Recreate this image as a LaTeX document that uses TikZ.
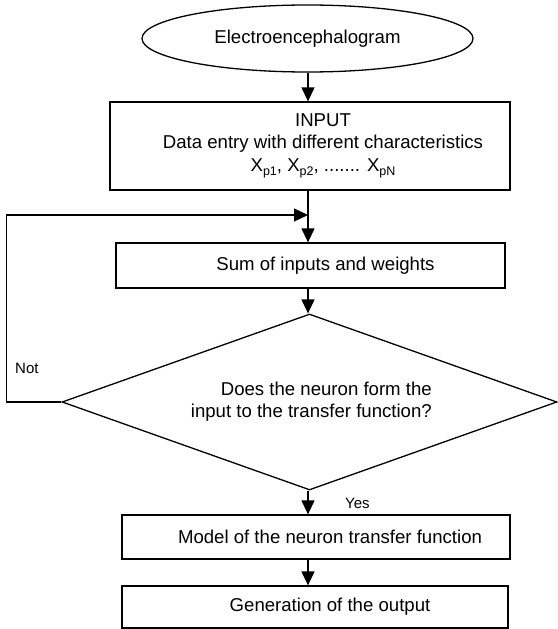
\documentclass[tikz,border=0pt]{standalone}
\usepackage{fontspec}
\setmainfont{Liberation Sans}
\usetikzlibrary{shapes.geometric, arrows.meta, positioning}

\newcommand{\xsub}[1]{\raisebox{-4.5pt}{\fontsize{12.5}{12.5}\selectfont #1}}

\tikzset{
  box/.style={draw, rectangle, line width=1.3pt, inner sep=0pt},
  flow/.style={-{Triangle[length=14pt,width=13pt]}, line width=1.3pt},
  tag/.style={font=\fontsize{15}{18}\selectfont, inner sep=0pt, anchor=west},
}

\begin{document}
\begin{tikzpicture}[x=1pt, y=-1pt, font=\fontsize{18.6}{22.5}\selectfont]
    \useasboundingbox (0,0) rectangle (557,629);

    \node[ellipse, draw, line width=1.3pt, inner sep=0pt, minimum width=331pt, minimum height=67pt] (eeg) at (307.5, 38.5) {Electroencephalogram};
    \node[box, minimum width=400pt, minimum height=88pt, align=center] (input) at (310, 146)
        {\hspace*{26pt}INPUT\\ \hspace*{26pt}Data entry with different characteristics\\
         \hspace*{26pt}X\xsub{p1}, X\xsub{p2}, ....... X\xsub{pN}};
    \node[box, minimum width=389pt, minimum height=45pt] (sum) at (310.5, 265.5) {\hspace*{30pt}Sum of inputs and weights};
    \node[diamond, draw, line width=1.3pt, inner sep=0pt, minimum width=495pt, minimum height=176pt] (decide) at (309.5, 402) {};
    \node[align=right, inner sep=0pt, anchor=east] (question) at (432, 401.5) {Does the neuron form the\\input to the transfer function?};
    \node[box, minimum width=388pt, minimum height=44pt] (model) at (316, 537) {\hspace*{28pt}Model of the neuron transfer function};
    \node[box, minimum width=386pt, minimum height=42pt] (output) at (315, 607) {\hspace*{30pt}Generation of the output};

    \node[tag] (no) at (15, 368) {Not};
    \node[tag] (yes) at (345, 503) {Yes};

    \coordinate (join) at (308, 215);

    \draw[flow] (join |- eeg.south) -- (join |- input.north);
    \draw[flow] (join |- input.south) -- (join |- sum.north);
    \draw[flow] (join |- sum.south) -- (join |- decide.north);
    \draw[flow] (join |- decide.south) -- (join |- model.north);
    \draw[flow] (join |- model.south) -- (join |- output.north);
    \draw[flow] (decide.west) -- ++(-55, 0) |- (join);
\end{tikzpicture}
\end{document}
